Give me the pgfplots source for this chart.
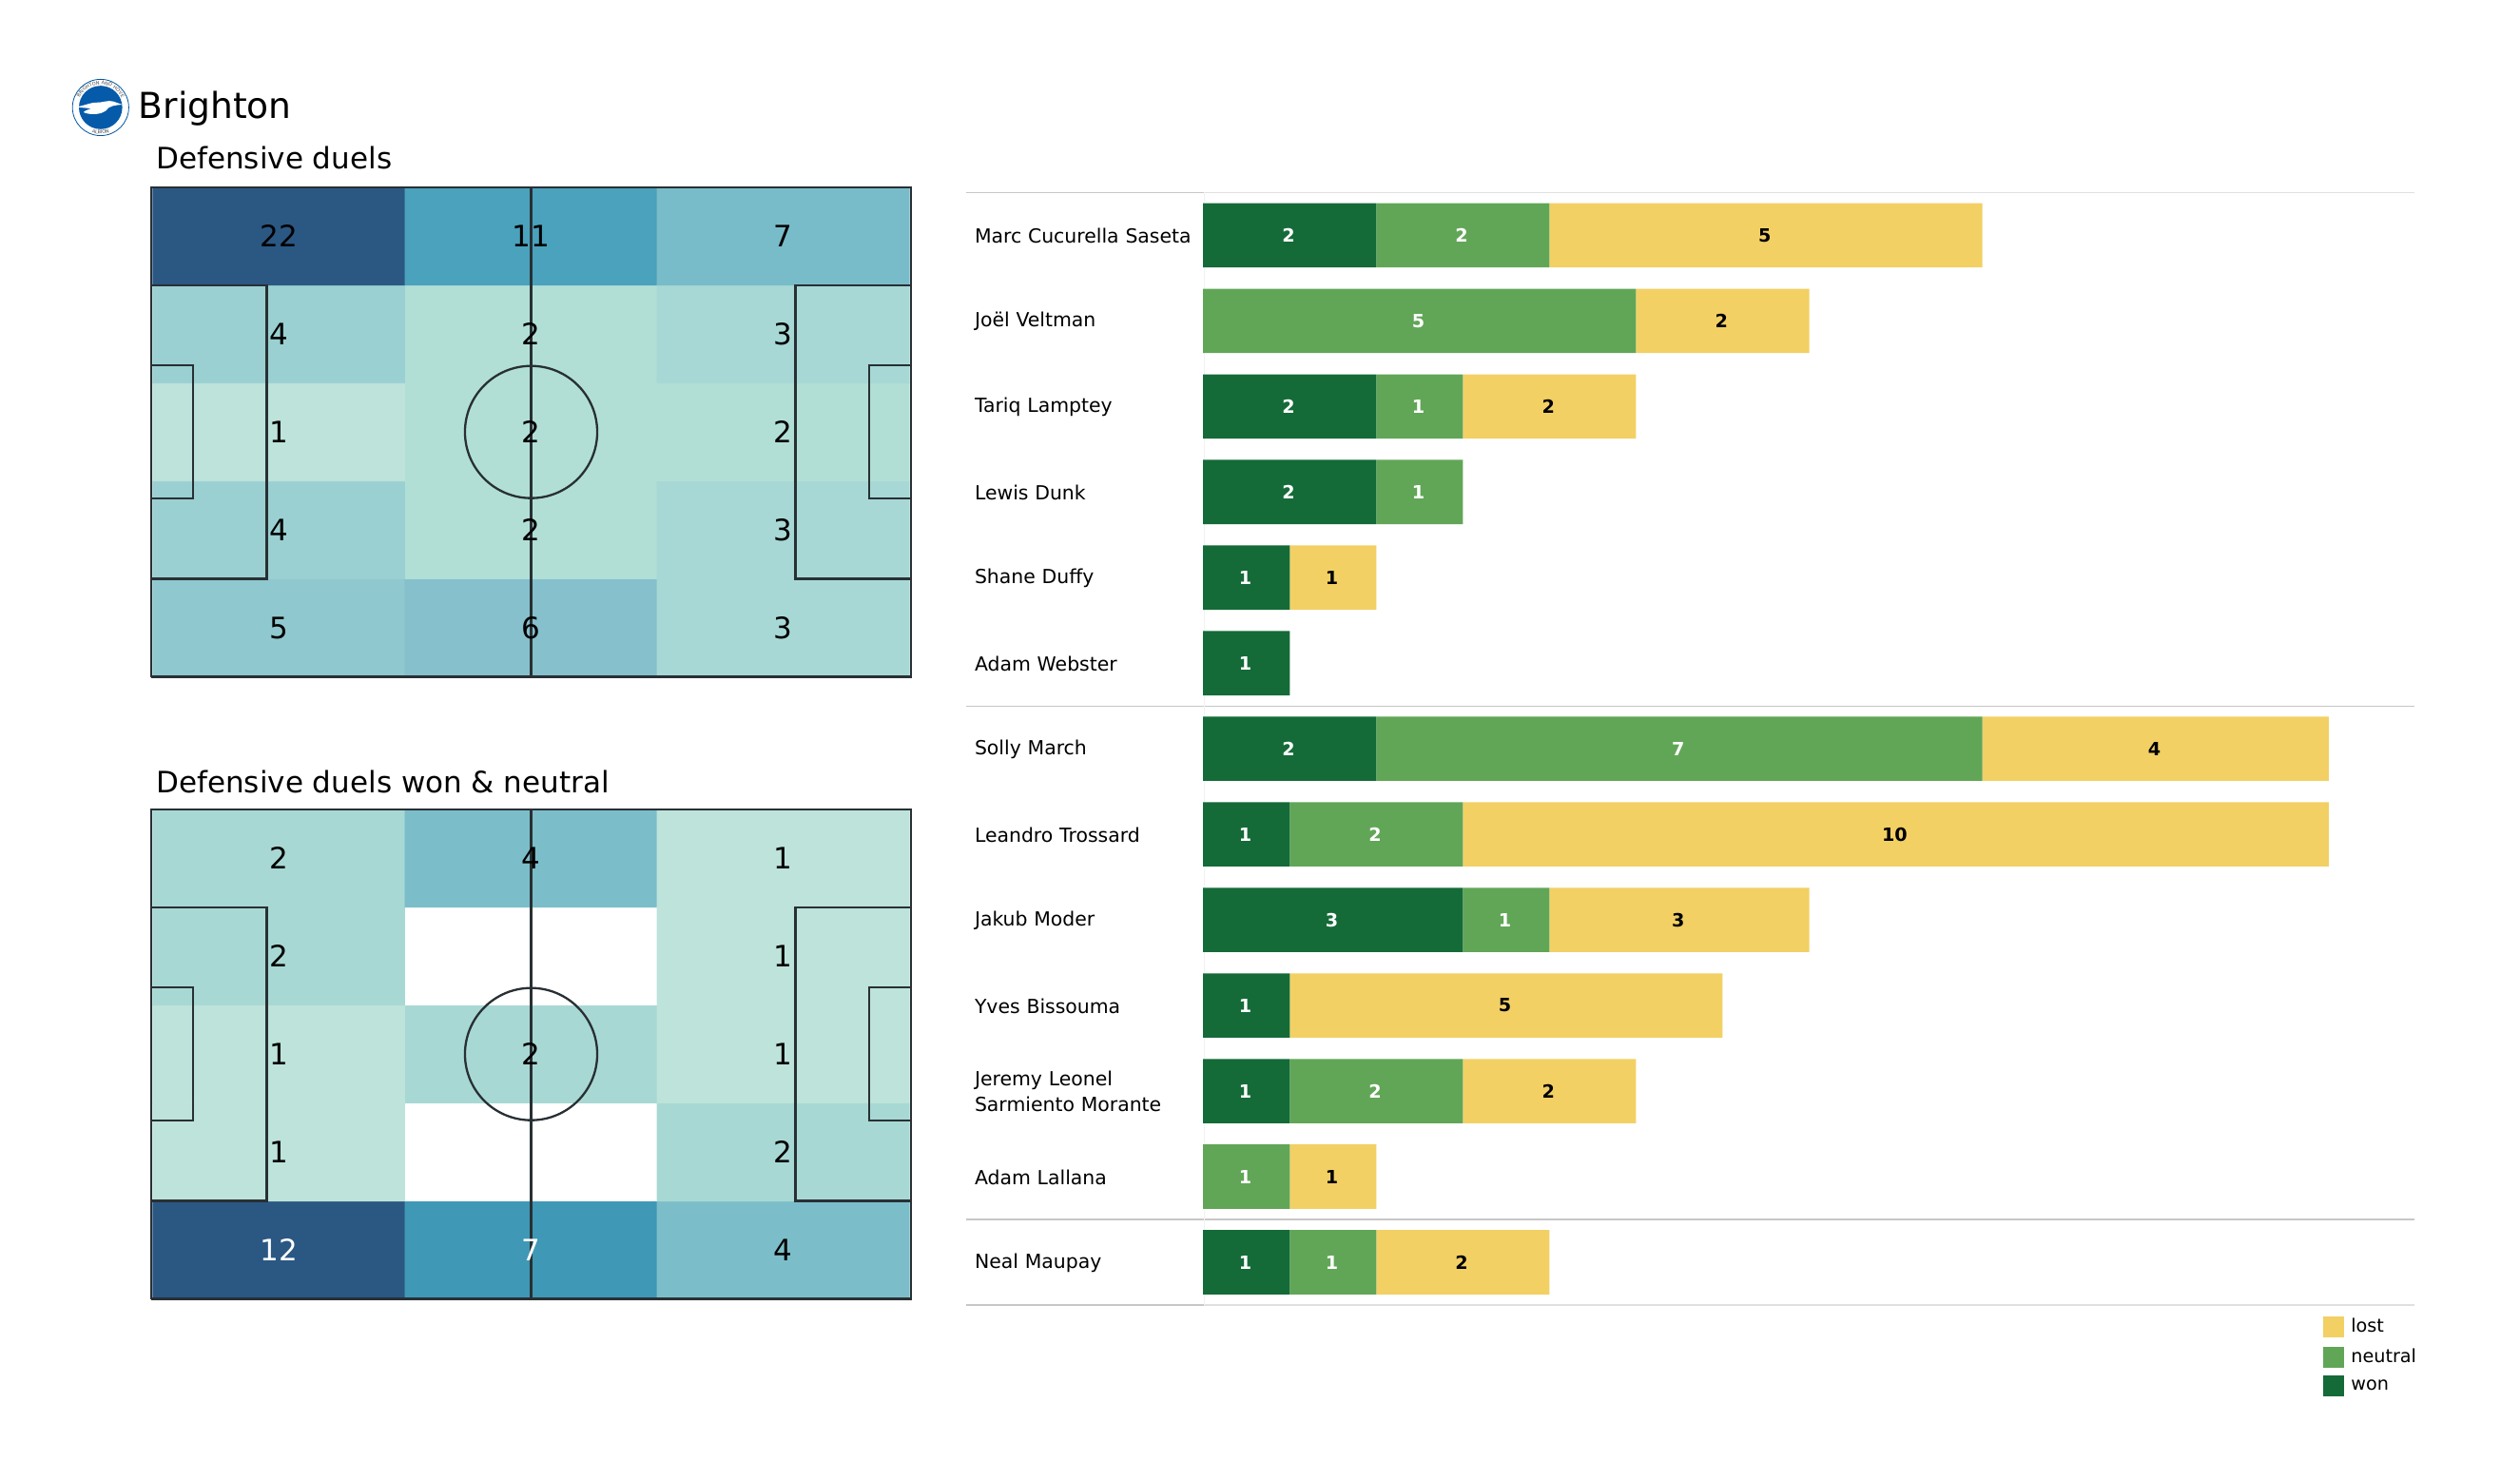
\documentclass[border=0pt]{standalone}
\usepackage{pgfplots}
\usepackage{pgfplotstable}
\usepackage{fontspec}
\setmainfont{DejaVu Sans}
\pgfplotsset{compat=1.18}
\usetikzlibrary{decorations.text}

\definecolor{won}{RGB}{20,107,56}
\definecolor{neutral}{RGB}{97,166,87}
\definecolor{lost}{RGB}{242,208,100}
\definecolor{line}{RGB}{40,48,52}

% heat grids, bottom row first
\pgfplotstableread{
x y v
0.505 0.5 5
1.5 0.5 6
2.495 0.5 3
0.505 1.5 4
1.5 1.5 2
2.495 1.5 3
0.505 2.5 1
1.5 2.5 2
2.495 2.5 2
0.505 3.5 4
1.5 3.5 2
2.495 3.5 3
0.505 4.5 22
1.5 4.5 11
2.495 4.5 7
}\duelsall
\pgfplotstableread{
x y v
0.505 0.5 12
1.5 0.5 7
2.495 0.5 4
0.505 1.5 1
1.5 1.5 0
2.495 1.5 2
0.505 2.5 1
1.5 2.5 2
2.495 2.5 1
0.505 3.5 2
1.5 3.5 0
2.495 3.5 1
0.505 4.5 2
1.5 4.5 4
2.495 4.5 1
}\duelswon
% player rows, bottom row is 0
\pgfplotstableread{
idx won neutral lost
0 1 1 2
1 0 1 1
2 1 2 2
3 1 0 5
4 3 1 3
5 1 2 10
6 2 7 4
7 1 0 0
8 1 0 1
9 2 1 0
10 2 1 2
11 0 5 2
12 2 2 5
}\players

\pgfplotsset{
  pitch/.style={
    scale only axis, width=399.7pt, height=257.4pt,
    xmin=0, xmax=3, ymin=0, ymax=5,
    hide axis, clip=false,
    point meta min=0,
  },
  pitchline/.style={line, line width=1.15pt, mark=none, forget plot},
  cellnum/.style={
    draw=none, mark=none, point meta=explicit symbolic,
    every node near coord/.style={anchor=center, font=\fontsize{15.5}{18}\selectfont, inner sep=0pt},
  },
  segment/.style={
    fill=#1, draw=none,
  },
}
\newcommand{\pitchlines}{
  \addplot[pitchline] coordinates {(0,0) (3,0) (3,5) (0,5) (0,0)};
  \addplot[pitchline] coordinates {(1.5,0) (1.5,5)};
  \addplot[pitchline] coordinates {(0,1) (0.457,1) (0.457,4) (0,4)};
  \addplot[pitchline] coordinates {(3,1) (2.543,1) (2.543,4) (3,4)};
  \addplot[pitchline] coordinates {(0,1.82) (0.165,1.82) (0.165,3.18) (0,3.18)};
  \addplot[pitchline] coordinates {(3,1.82) (2.835,1.82) (2.835,3.18) (3,3.18)};
  \draw[line, line width=1.15pt] (axis cs:1.5,2.5) ellipse [x radius=0.261, y radius=0.675];
}

\begin{document}
\begin{tikzpicture}
\useasboundingbox (0,0) rectangle (1325pt,778.5pt);

% badge
\begin{scope}[shift={(52.9pt,722pt)}, x=1pt, y=1pt]
  \draw[color={rgb,255:red,0;green,87;blue,160}, line width=0.4pt, fill=white] (0,0) circle (14.8);
  \fill[color={rgb,255:red,5;green,90;blue,170}] (0,0) circle (11.4);
  \fill[white] (-13,.3) .. controls (-8,1) and (-5,2.8) .. (-2,2.6) .. controls (1,2.5) and (4,4) .. (6.5,3.2) -- (11.5,1.5) .. controls (7,1.2) and (4,.5) .. (3,-1.5) .. controls (0,-4) and (-6,-4) .. (-9,-2.5) .. controls (-8,-1.5) and (-6,-1) .. (-5,-.5) .. controls (-8,-.3) and (-11,0) .. cycle;
  \path[decorate, decoration={text along path, text align=center, text={|\fontsize{2.5}{3}\selectfont\color{black!70}|BRIGHTON AND HOVE}}]
    (170:12.1) arc[start angle=170, end angle=10, radius=12.1];
  \path[decorate, decoration={text along path, text align=center, text={|\fontsize{2.5}{3}\selectfont\color{black!70}|ALBION}}]
    (230:14) arc[start angle=230, end angle=310, radius=14];
\end{scope}

\node[anchor=base west, inner sep=0pt, font=\fontsize{18.8}{22}\selectfont] at (72.7pt,716pt) {Brighton};
\node[anchor=base west, inner sep=0pt, font=\fontsize{15.5}{18}\selectfont] at (82pt,689.7pt) {Defensive duels};
\node[anchor=base west, inner sep=0pt, font=\fontsize{15.5}{18}\selectfont] at (82pt,361.7pt) {Defensive duels won \& neutral};

% top pitch
\begin{axis}[pitch, at={(79.4pt,422.7pt)}, anchor=south west, point meta max=22,
  colormap={all}{rgb255(0pt)=(255,255,255); rgb255(1pt)=(189,227,219); rgb255(2pt)=(177,223,214);
    rgb255(3pt)=(167,216,213); rgb255(4pt)=(154,208,209); rgb255(5pt)=(143,200,206);
    rgb255(6pt)=(133,192,204); rgb255(7pt)=(121,188,201); rgb255(11pt)=(74,162,188); rgb255(22pt)=(43,87,131)}]
\addplot[matrix plot*, mesh/cols=3, point meta=explicit, forget plot] table[x=x, y=y, meta=v] {\duelsall};
\pitchlines
\addplot[cellnum, nodes near coords={\pgfplotspointmeta}] table[x=x, y=y, meta=v] {\duelsall};
\end{axis}

% bottom pitch
\begin{axis}[pitch, at={(79.4pt,95.7pt)}, anchor=south west, point meta max=12,
  colormap={won}{rgb255(0pt)=(255,255,255); rgb255(1pt)=(189,227,219); rgb255(2pt)=(168,216,212);
    rgb255(4pt)=(123,190,201); rgb255(7pt)=(63,152,181); rgb255(12pt)=(43,87,131)}]
\addplot[matrix plot*, mesh/cols=3, point meta=explicit, forget plot] table[x=x, y=y, meta=v] {\duelswon};
\pitchlines
\addplot[cellnum, nodes near coords={\ifnum\pgfplotspointmeta>0 \ifnum\pgfplotspointmeta>6 \color{white}\fi\pgfplotspointmeta\fi}]
  table[x=x, y=y, meta=v] {\duelswon};
\end{axis}

% group rules
\begin{axis}[at={(507.9pt,92.5pt)}, anchor=south west, scale only axis,
  width=761.4pt, height=584.8pt, xmin=0, xmax=1, ymin=-0.5, ymax=12.5, hide axis, clip=false]
\addplot[black!22, line width=0.7pt, mark=none] coordinates {(0,12.5) (0.1643,12.5)};
\addplot[black!22, line width=0.7pt, mark=none] coordinates {(0,6.5) (0.1643,6.5)};
\addplot[black!22, line width=0.7pt, mark=none] coordinates {(0,0.5) (0.1643,0.5)};
\addplot[black!22, line width=0.7pt, mark=none] coordinates {(0,-0.5) (0.1643,-0.5)};
\addplot[black!12, line width=0.7pt, mark=none] coordinates {(0.1643,12.5) (1,12.5)};
\addplot[black!22, line width=0.7pt, mark=none] coordinates {(0.1643,6.5) (1,6.5)};
\addplot[black!22, line width=0.7pt, mark=none] coordinates {(0.1643,0.5) (1,0.5)};
\addplot[black!12, line width=0.7pt, mark=none] coordinates {(0.1643,-0.5) (1,-0.5)};
\addplot[black!5, line width=0.5pt, mark=none] coordinates {(0.1643,-0.5) (0.1643,12.5)};
\end{axis}

% player bars
\begin{axis}[at={(632.6pt,92.5pt)}, anchor=south west, scale only axis,
  width=636.4pt, height=584.8pt,
  xbar stacked, bar width=33.8pt,
  xmin=0, xmax=13.98, ymin=-0.5, ymax=12.5,
  axis line style={draw=none}, xtick=\empty, major tick length=0pt,
  ytick={0,...,12},
  yticklabels={Neal Maupay, Adam Lallana, {Jeremy Leonel\\Sarmiento Morante}, Yves Bissouma, Jakub Moder,
    Leandro Trossard, Solly March, Adam Webster, Shane Duffy, Lewis Dunk, Tariq Lamptey, Joël Veltman, Marc Cucurella Saseta},
  yticklabel style={font=\fontsize{10.2}{13.5}\selectfont, anchor=east, align=left, text width=121pt, inner sep=0pt, xshift=1.1pt, yshift=-0.4pt},
  point meta=explicit symbolic,
  nodes near coords={\ifnum\pgfplotspointmeta>0 \pgfplotspointmeta\fi},
  every node near coord/.style={anchor=center, inner sep=0pt, xshift=-0.6pt, font=\fontsize{9.6}{11}\selectfont\bfseries},
  reverse legend, legend cell align=left,
  legend image code/.code={\fill[#1] (0pt,-5.5pt) rectangle (11pt,5.5pt); \path (12.7pt,0pt);},
  legend style={at={(1,0)}, anchor=north east, xshift=3.7pt, yshift=-5pt, draw=none, fill=none, inner sep=0pt,
    font=\fontsize{9.6}{11}\selectfont, row sep=3.15pt},
]
\addplot[segment=won, nodes near coords style={text=white}]
  table[x=won, y=idx, meta=won] {\players};
\addplot[segment=neutral, nodes near coords style={text=white}]
  table[x=neutral, y=idx, meta=neutral] {\players};
\addplot[segment=lost, nodes near coords style={text=black}]
  table[x=lost, y=idx, meta=lost] {\players};
\legend{won, neutral, lost}
\end{axis}
\end{tikzpicture}
\end{document}
